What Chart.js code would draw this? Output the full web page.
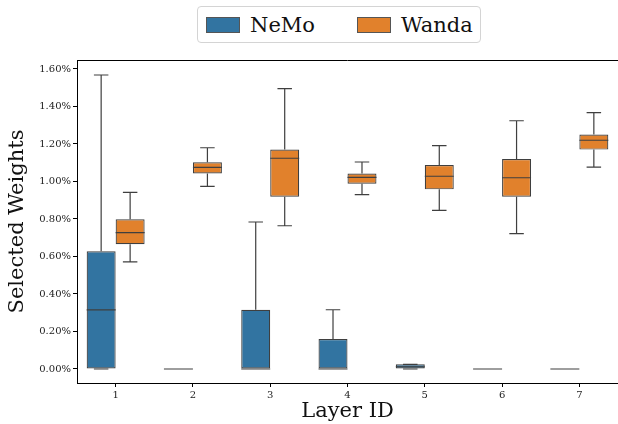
<!DOCTYPE html>
<html>
<head>
<meta charset="utf-8">
<script src="https://cdn.jsdelivr.net/npm/chart.js@4.4.1/dist/chart.umd.min.js"></script>
<style>
  body { margin: 0; background: #fff; }
  #wrap { position: relative; width: 618px; height: 424px; }
  #legend {
    position: absolute; left: 197px; top: 6px; width: 282px; height: 35px;
    border: 1px solid #d4d4d4; border-radius: 4px; background: #fff;
    display: flex; align-items: center;
    font-family: "DejaVu Serif", serif; font-size: 21px; color: #111;
  }
  .item { display: flex; align-items: center; margin-left: 8px; margin-right: 10px; }
  .item + .item { margin-left: 32px; }
  .swatch { width: 32px; height: 14px; border: 1px solid #555; margin-right: 10px; }
</style>
</head>
<body>
<div id="wrap">
  <canvas id="boxChart"></canvas>
  <div id="legend"></div>
</div>
<script>
// values in percent
var layers = ["1", "2", "3", "4", "5", "6", "7"];

var nemoMin = [0, 0, 0, 0, 0, 0, 0];
var nemoQ1  = [0, 0, 0, 0, 0, 0, 0];
var nemoMed = [0.315, 0, 0, 0, 0.012, 0, 0];
var nemoQ3  = [0.628, 0, 0.316, 0.160, 0.025, 0, 0];
var nemoMax = [1.568, 0, 0.784, 0.316, 0.025, 0, 0];

var wandaMin = [0.571, 0.974, 0.764, 0.930, 0.846, 0.722, 1.077];
var wandaQ1  = [0.665, 1.043, 0.919, 0.988, 0.958, 0.919, 1.170];
var wandaMed = [0.727, 1.075, 1.124, 1.022, 1.028, 1.020, 1.220];
var wandaQ3  = [0.798, 1.102, 1.170, 1.042, 1.088, 1.120, 1.250];
var wandaMax = [0.942, 1.180, 1.495, 1.104, 1.191, 1.324, 1.367];

var lineColor = "#3f3f3f";
var serif = "'DejaVu Serif', serif";

var stats = [
    { min: nemoMin, med: nemoMed, max: nemoMax, q1: nemoQ1, q3: nemoQ3 },
    { min: wandaMin, med: wandaMed, max: wandaMax, q1: wandaQ1, q3: wandaQ3 }
];

function boxRange(q1, q3) {
    return q1.map(function (v, i) { return [v, q3[i]]; });
}

// whiskers, caps, medians and top spine
var boxPlugin = {
    id: "boxPlugin",
    afterDatasetsDraw: function (chart) {
        var ctx = chart.ctx;
        var y = chart.scales.y;
        ctx.save();
        ctx.strokeStyle = lineColor;
        ctx.lineWidth = 1.2;
        chart.data.datasets.forEach(function (ds, di) {
            var st = stats[di];
            chart.getDatasetMeta(di).data.forEach(function (bar, i) {
                var x = bar.x, half = bar.width / 2, cap = bar.width / 4;
                var pMin = y.getPixelForValue(st.min[i]);
                var pQ1 = y.getPixelForValue(st.q1[i]);
                var pQ3 = y.getPixelForValue(st.q3[i]);
                var pMax = y.getPixelForValue(st.max[i]);
                var pMed = y.getPixelForValue(st.med[i]);
                ctx.beginPath();
                ctx.moveTo(x, pQ3); ctx.lineTo(x, pMax);
                ctx.moveTo(x - cap, pMax); ctx.lineTo(x + cap, pMax);
                ctx.moveTo(x, pQ1); ctx.lineTo(x, pMin);
                ctx.moveTo(x - cap, pMin); ctx.lineTo(x + cap, pMin);
                ctx.moveTo(x - half, pMed); ctx.lineTo(x + half, pMed);
                ctx.stroke();
            });
        });
        var a = chart.chartArea;
        ctx.strokeStyle = "#000";
        ctx.lineWidth = 1;
        ctx.beginPath();
        ctx.moveTo(a.left, a.top + 0.5);
        ctx.lineTo(a.right, a.top + 0.5);
        ctx.stroke();
        ctx.restore();
    }
};

var ctx_box = document.getElementById("boxChart");
var myBoxChart = new Chart(ctx_box, {
    type: "bar",
    data: {
        labels: layers,
        datasets: [
            {
                label: "NeMo",
                data: boxRange(nemoQ1, nemoQ3),
                backgroundColor: "#3274a1",
                borderColor: lineColor,
                borderWidth: 1.2,
                borderSkipped: false
            },
            {
                label: "Wanda",
                data: boxRange(wandaQ1, wandaQ3),
                backgroundColor: "#e1812c",
                borderColor: lineColor,
                borderWidth: 1.2,
                borderSkipped: false
            }
        ]
    },
    options: {
        responsive: true,
        maintainAspectRatio: false,
        animation: false,
        categoryPercentage: 0.75,
        barPercentage: 1.0,
        layout: { padding: { top: 60, right: 0, left: 0, bottom: 0 } },
        plugins: {
            legend: { display: false },
            tooltip: { enabled: false }
        },
        scales: {
            x: {
                grid: { drawOnChartArea: false, drawTicks: true, tickLength: 4, color: "#000", offset: false },
                border: { display: true, color: "#000", width: 1 },
                ticks: { color: "#222", font: { family: serif, size: 10 }, padding: 2, maxRotation: 0 },
                title: { display: true, text: "Layer ID", color: "#111", font: { family: serif, size: 21 }, padding: { top: 0, bottom: 0 } },
                afterFit: function (s) { s.height = 41; }
            },
            y: {
                min: -0.0747,
                max: 1.648,
                grid: { drawOnChartArea: false, drawTicks: true, tickLength: 4, color: "#000" },
                border: { display: true, color: "#000", width: 1 },
                ticks: {
                    stepSize: 0.2,
                    includeBounds: false,
                    color: "#222",
                    font: { family: serif, size: 10 },
                    padding: 2,
                    callback: function (v) { return v.toFixed(2) + "%"; }
                },
                title: { display: true, text: "Selected Weights", color: "#111", font: { family: serif, size: 21 }, padding: { top: 5, bottom: 0 } },
                afterFit: function (s) { s.width = 77; }
            }
        }
    },
    plugins: [boxPlugin]
});

// legend built from the datasets
var legendDiv = document.getElementById("legend");
myBoxChart.data.datasets.forEach(function (ds) {
    var item = document.createElement("div");
    item.className = "item";
    var sw = document.createElement("span");
    sw.className = "swatch";
    sw.style.background = ds.backgroundColor;
    var txt = document.createElement("span");
    txt.textContent = ds.label;
    item.appendChild(sw);
    item.appendChild(txt);
    legendDiv.appendChild(item);
});
</script>
</body>
</html>
